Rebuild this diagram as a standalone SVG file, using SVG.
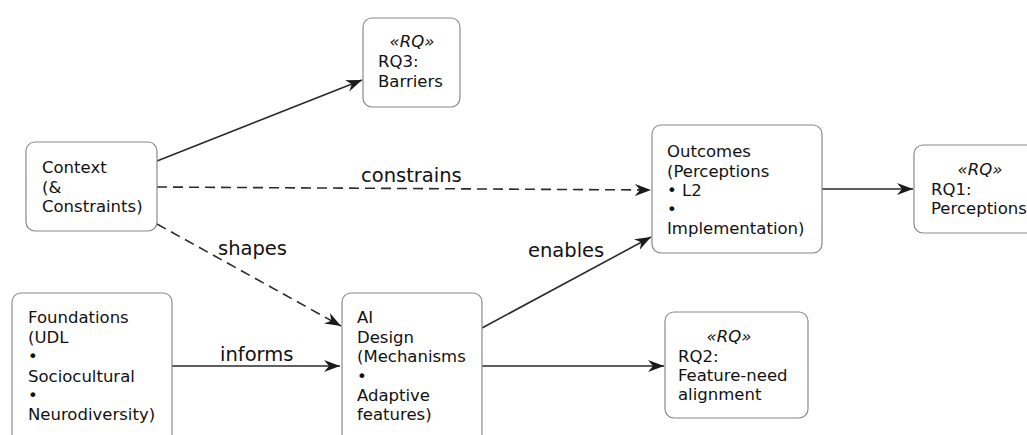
<svg xmlns="http://www.w3.org/2000/svg" width="1027" height="435" viewBox="0 0 1027 435">
<style>
.box{fill:#fff;stroke:#8a8a8a;stroke-width:1.2}
.t{font-family:"DejaVu Sans",sans-serif;font-size:16.5px;fill:#111}
.st{font-family:"DejaVu Sans",sans-serif;font-size:16.5px;fill:#111;font-style:italic;text-anchor:middle}
.lbl{font-family:"DejaVu Sans",sans-serif;font-size:19.5px;fill:#111}
.e{fill:none;stroke:#2a2a2a;stroke-width:1.6}
.d{stroke-dasharray:10 6}
</style>
<defs>
<marker id="ah" markerUnits="userSpaceOnUse" markerWidth="18" markerHeight="14" refX="16" refY="7" orient="auto">
<path d="M0,1 L16,7 L0,13 L5,7 Z" fill="#1a1a1a"/>
</marker>
</defs>
<g id="connectors">
<line class="e" x1="157" y1="161" x2="362" y2="80" marker-end="url(#ah)"/>
<line class="e d" x1="157" y1="187" x2="651" y2="190" marker-end="url(#ah)"/>
<line class="e d" x1="157" y1="224" x2="341" y2="326" marker-end="url(#ah)"/>
<line class="e" x1="482" y1="328" x2="651" y2="237" marker-end="url(#ah)"/>
<line class="e" x1="172" y1="366" x2="340" y2="366" marker-end="url(#ah)"/>
<line class="e" x1="482" y1="366" x2="664" y2="366" marker-end="url(#ah)"/>
<line class="e" x1="822" y1="189" x2="913" y2="189" marker-end="url(#ah)"/>
<text class="lbl" x="361" y="182">constrains</text>
<text class="lbl" x="218" y="255">shapes</text>
<text class="lbl" x="528" y="257">enables</text>
<text class="lbl" x="220" y="361">informs</text>
</g>
<g id="context">
<rect class="box" x="26" y="142" width="131" height="89" rx="9"/>
<text class="t" x="42" y="173">Context</text>
<text class="t" x="42" y="193">(&amp;</text>
<text class="t" x="42" y="212">Constraints)</text>
</g>
<g id="rq3">
<rect class="box" x="363" y="18" width="97" height="89" rx="9"/>
<text class="st" x="412" y="47">«RQ»</text>
<text class="t" x="378" y="67">RQ3:</text>
<text class="t" x="378" y="87">Barriers</text>
</g>
<g id="foundations">
<rect class="box" x="12" y="293" width="160" height="160" rx="9"/>
<text class="t" x="28" y="323">Foundations</text>
<text class="t" x="28" y="343">(UDL</text>
<text class="t" x="28" y="362">•</text>
<text class="t" x="28" y="382">Sociocultural</text>
<text class="t" x="28" y="401">•</text>
<text class="t" x="28" y="420">Neurodiversity)</text>
</g>
<g id="ai-design">
<rect class="box" x="342" y="293" width="140" height="160" rx="9"/>
<text class="t" x="357" y="323">AI</text>
<text class="t" x="357" y="343">Design</text>
<text class="t" x="357" y="362">(Mechanisms</text>
<text class="t" x="357" y="382">•</text>
<text class="t" x="357" y="401">Adaptive</text>
<text class="t" x="357" y="420">features)</text>
</g>
<g id="outcomes">
<rect class="box" x="652" y="125" width="170" height="128" rx="9"/>
<text class="t" x="667" y="157">Outcomes</text>
<text class="t" x="667" y="177">(Perceptions</text>
<text class="t" x="667" y="196">• L2</text>
<text class="t" x="667" y="215">•</text>
<text class="t" x="667" y="234">Implementation)</text>
</g>
<g id="rq1">
<rect class="box" x="914" y="145" width="130" height="88" rx="9"/>
<text class="st" x="980" y="175">«RQ»</text>
<text class="t" x="931" y="195">RQ1:</text>
<text class="t" x="931" y="214">Perceptions</text>
</g>
<g id="rq2">
<rect class="box" x="665" y="312" width="143" height="106" rx="9"/>
<text class="st" x="729" y="342">«RQ»</text>
<text class="t" x="678" y="362">RQ2:</text>
<text class="t" x="678" y="381">Feature-need</text>
<text class="t" x="678" y="400">alignment</text>
</g>
</svg>
